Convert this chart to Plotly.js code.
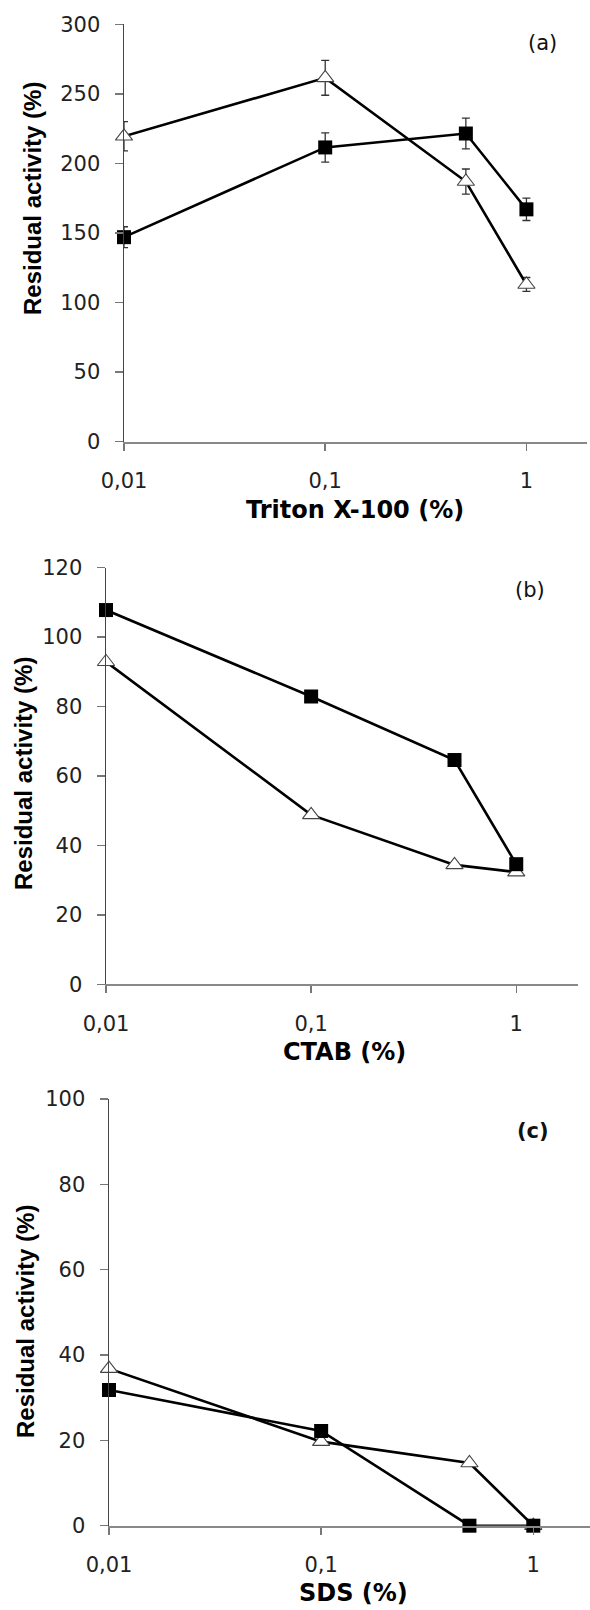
<!DOCTYPE html>
<html>
<head>
<meta charset="utf-8">
<script src="https://cdn.plot.ly/plotly-3.0.1.min.js"></script>
<style>html,body{margin:0;padding:0;background:#fff;}#chart{width:590px;height:1610px;}</style>
</head>
<body>
<div id="chart"></div>
<script>
// ---- data ----
const concentrations = [0.01, 0.1, 0.5, 1];
const xTickVals = [0.01, 0.1, 1];
const xTickText = ['0,01', '0,1', '1'];

const tritonSquare = [147, 211.5, 221.5, 167];
const tritonSquareErr = [7.5, 10.5, 11, 8];
const tritonTriangle = [219.5, 261.5, 187, 113];
const tritonTriangleErr = [10.5, 12.5, 9, 5];

const ctabSquare = [107.8, 82.9, 64.6, 34.6];
const ctabTriangle = [92.9, 48.8, 34.4, 32.3];

const sdsSquare = [31.8, 22.2, 0, 0];
const sdsTriangle = [36.8, 19.7, 14.7, 0];

const yTicksA = [0, 50, 100, 150, 200, 250, 300];
const yTicksB = [0, 20, 40, 60, 80, 100, 120];
const yTicksC = [0, 20, 40, 60, 80, 100];

// ---- helpers ----
const W = 590, H = 1610;
const fx = p => p / W;
const fy = p => 1 - p / H;
const FONT = 'DejaVu Sans';

function sq(xa, ya, y, err) {
  const t = {
    x: concentrations, y: y, xaxis: xa, yaxis: ya, type: 'scatter', mode: 'lines+markers',
    line: {color: '#000', width: 2.6},
    marker: {symbol: 'square', size: 14, color: '#000', line: {color: '#000', width: 0}},
    cliponaxis: false, showlegend: false
  };
  if (err) t.error_y = {type: 'data', array: err, visible: true, color: '#333', thickness: 1.3, width: 4};
  return t;
}
function tri(xa, ya, y, err) {
  const t = {
    x: concentrations, y: y, xaxis: xa, yaxis: ya, type: 'scatter', mode: 'lines+markers',
    line: {color: '#000', width: 2.6},
    marker: {symbol: 'triangle-up', size: 15, color: '#fff', line: {color: '#444', width: 1.1}},
    cliponaxis: false, showlegend: false
  };
  if (err) t.error_y = {type: 'data', array: err, visible: true, color: '#333', thickness: 1.3, width: 4};
  return t;
}

const data = [
  tri('x', 'y', tritonTriangle, tritonTriangleErr),
  sq('x', 'y', tritonSquare, tritonSquareErr),
  tri('x2', 'y2', ctabTriangle),
  sq('x2', 'y2', ctabSquare),
  tri('x3', 'y3', sdsTriangle),
  sq('x3', 'y3', sdsSquare)
];

function xax(d0, d1, anchor, rmax) {
  return {
    type: 'log', domain: [d0, d1], anchor: anchor, range: [-2, rmax],
    tickvals: xTickVals, ticktext: xTickText, ticks: 'outside', ticklen: 7, tickwidth: 1.5, tickcolor: '#777',
    showline: true, linecolor: '#888', linewidth: 2, showgrid: false, zeroline: false,
    tickfont: {family: FONT, size: 21, color: '#222'}, ticklabelstandoff: 12
  };
}
function yax(d0, d1, anchor, rmax, tv) {
  return {
    domain: [d0, d1], anchor: anchor, range: [0, rmax], tickvals: tv,
    ticks: 'outside', ticklen: 8, tickwidth: 1.5, tickcolor: '#777',
    showline: true, linecolor: '#444', linewidth: 1.5, showgrid: false, zeroline: false,
    tickfont: {family: FONT, size: 21, color: '#222'}, ticklabelstandoff: 10
  };
}

function ytitle(x, y) {
  return {text: 'Residual activity (%)', xref: 'paper', yref: 'paper', x: fx(x), y: fy(y),
    xanchor: 'center', yanchor: 'middle', textangle: -90, showarrow: false,
    font: {family: 'Liberation Sans', size: 24, color: '#000', weight: 'bold'}};
}
function xtitle(t, x, y) {
  return {text: '<b>' + t + '</b>', xref: 'paper', yref: 'paper', x: fx(x), y: fy(y),
    xanchor: 'center', yanchor: 'middle', showarrow: false,
    font: {family: FONT, size: 24, color: '#000'}};
}
function plabel(t, x, y) {
  return {text: t, xref: 'paper', yref: 'paper', x: fx(x), y: fy(y),
    xanchor: 'center', yanchor: 'middle', showarrow: false,
    font: {family: FONT, size: 21, color: '#111'}};
}

const layout = {
  width: W, height: H, margin: {l: 0, r: 0, t: 0, b: 0},
  paper_bgcolor: '#fff', plot_bgcolor: '#fff', showlegend: false,
  xaxis: xax(fx(124), fx(587), 'y', Math.log10(2)),
  yaxis: yax(fy(441.7), fy(24.3), 'x', 300, yTicksA),
  xaxis2: xax(fx(106), fx(578), 'y2', Math.log10(2)),
  yaxis2: yax(fy(984.3), fy(567.7), 'x2', 120, yTicksB),
  xaxis3: xax(fx(109), 1, 'y3', -2 + 481 / 212.15),
  yaxis3: yax(fy(1525.7), fy(1099), 'x3', 100, yTicksC),
  annotations: [
    ytitle(32, 199), ytitle(24, 774), ytitle(25, 1322),
    xtitle('Triton X-100 (%)', 355, 510),
    xtitle('CTAB (%)', 344, 1052),
    xtitle('SDS (%)', 353, 1593),
    plabel('(a)', 542, 43),
    plabel('(b)', 530, 590),
    plabel('<b>(c)</b>', 533, 1131)
  ]
};

Plotly.newPlot('chart', data, layout, {staticPlot: true, displayModeBar: false});
</script>
</body>
</html>
